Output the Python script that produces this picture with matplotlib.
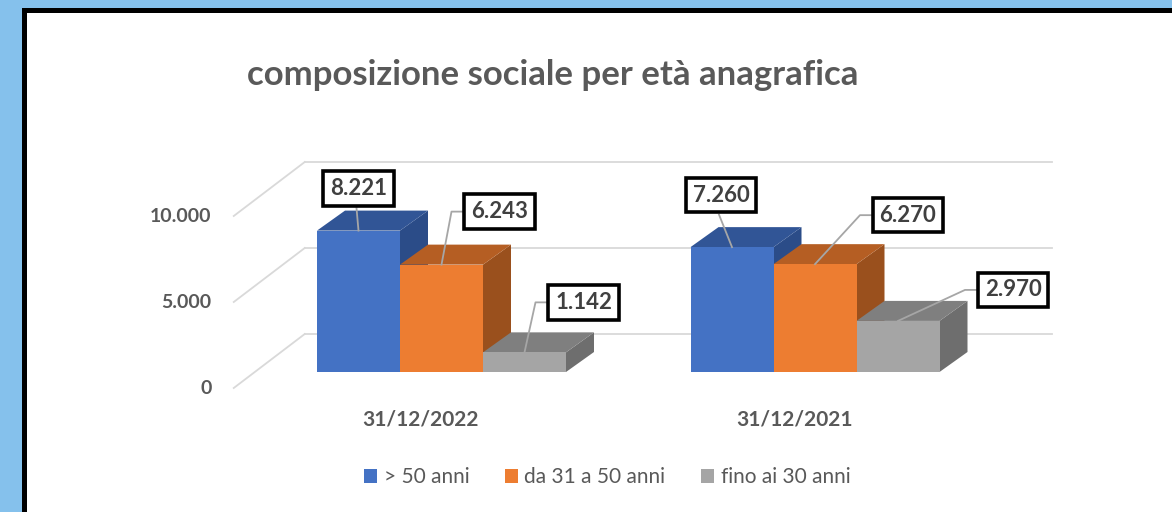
import matplotlib.pyplot as plt
from matplotlib.patches import Polygon, Rectangle, Patch

# dati
categories = ['31/12/2022', '31/12/2021']
series = ['> 50 anni', 'da 31 a 50 anni', 'fino ai 30 anni']
over_50 = [8221, 7260]
from_31_to_50 = [6243, 6270]
up_to_30 = [1142, 2970]
yticks = [0, 5000, 10000]
ytick_labels = ['0', '5.000', '10.000']

values = [over_50, from_31_to_50, up_to_30]

# colori: fronte, sopra, lato
front_cols = ['#4472C4', '#ED7D31', '#A5A5A5']
top_cols = ['#315596', '#B55E23', '#7F7F7F']
side_cols = ['#2B4C88', '#9A501D', '#6E6E6E']
text_col = '#595959'
label_col = '#404040'
grid_col = '#D9D9D9'

# posizione delle etichette (pixel rispetto al centro del bordo alto della barra)
# (dx, dy, stile leader) stile 'v' = verticale, 'k' = con gomito
label_pos = [
    [(0, 42, 'v'), (-11, 52, 'v')],
    [(58, 53, 'k'), (93, 49, 'k')],
    [(59, 50, 'k'), (115, 31, 'k')],
]

W, H = 1172, 512
fig = plt.figure(figsize=(W / 100, H / 100), dpi=100)
fig.patch.set_facecolor('#85C1EC')
fig.add_artist(Rectangle((22 / W, -0.1), 1.2, (H - 8) / H + 0.1, transform=fig.transFigure,
                         facecolor='black', edgecolor='none', zorder=-2))
fig.add_artist(Rectangle((27 / W, -0.1), 1.2, (H - 13) / H + 0.1, transform=fig.transFigure,
                         facecolor='white', edgecolor='none', zorder=-1))

ax = fig.add_axes([0, 0, 1, 1])
ax.set_axis_off()
ax.patch.set_visible(False)

# scala: 1 unita' x = 83 px (larghezza barra), 5000 = 86 px
bw_px = 83.0
ypx = 86.0 / 5000
x_origin = 358.5
y_origin = 140.0
ax.set_xlim(-x_origin / bw_px, (W - x_origin) / bw_px)
ax.set_ylim(-y_origin / ypx, (H - y_origin) / ypx)


def px_x(p):
    return p / bw_px


def px_y(p):
    return p / ypx


n = len(series)
gap = 1.5
group_w = n + gap
centers = [i * group_w + (n - 1) / 2 for i in range(len(categories))]
xmin = centers[0] - group_w / 2
xmax = centers[-1] + group_w / 2

# profondita'
bdx, bdy = px_x(28), px_y(20)     # barre
fdx, fdy = px_x(-21), px_y(-16)   # bordo anteriore del pavimento
kdx, kdy = px_x(50), px_y(38)     # parete di fondo

# griglia
for v, lab in zip(yticks, ytick_labels):
    ax.plot([xmin + fdx, xmin + kdx], [v + fdy, v + kdy], color=grid_col, lw=1.3, zorder=0)
    ax.plot([xmin + kdx, xmax + kdx], [v + kdy, v + kdy], color=grid_col, lw=1.3, zorder=0)
    ax.text(xmin + fdx - px_x(22), v + fdy, lab, ha='right', va='center', fontsize=14,
            fontweight='bold', color=text_col, family='Lato')

for ci, c in enumerate(categories):
    ax.text(centers[ci] + fdx, fdy - px_y(32), c, ha='center', va='center', fontsize=15,
            fontweight='bold', color=text_col, family='Lato')

# barre
for ci in range(len(categories)):
    for si in range(n):
        v = values[si][ci]
        x = centers[ci] - (n - 1) / 2 + si
        l, r = x - 0.5, x + 0.5
        ax.add_patch(Polygon([(r, 0), (r + bdx, bdy), (r + bdx, v + bdy), (r, v)], closed=True,
                             facecolor=side_cols[si], edgecolor='none', zorder=2 + ci * 10 + si * 3))
        ax.add_patch(Polygon([(l, v), (r, v), (r + bdx, v + bdy), (l + bdx, v + bdy)], closed=True,
                             facecolor=top_cols[si], edgecolor='none', zorder=2 + ci * 10 + si * 3))
        ax.bar(x, v, width=1.0, color=front_cols[si], edgecolor='none', zorder=3 + ci * 10 + si * 3)

# etichette dati
box_hw, box_hh = 37, 19.5
for ci in range(len(categories)):
    for si in range(n):
        v = values[si][ci]
        x = centers[ci] - (n - 1) / 2 + si
        dx, dy, style = label_pos[si][ci]
        if style == 'v':
            lx = [x, x + px_x(dx - 2)]
            ly = [v, v + px_y(dy - box_hh)]
        else:
            lx = [x, x + px_x(dx - box_hw - 11), x + px_x(dx - box_hw)]
            ly = [v, v + px_y(dy), v + px_y(dy)]
        ax.plot(lx, ly, color='#A6A6A6', lw=1.3, zorder=40)
        txt = f'{v:,}'.replace(',', '.')
        ax.text(x + px_x(dx), v + px_y(dy), txt, ha='center', va='center', fontsize=16,
                fontweight='bold', color=label_col, family='Lato', zorder=41,
                bbox=dict(boxstyle='square,pad=0.3', facecolor='white', edgecolor='black', lw=2.6))

fig.text(553 / W, (H - 75) / H, 'composizione sociale per età anagrafica', ha='center', va='center',
         fontsize=25, fontweight='bold', color=text_col, family='Lato')

handles = [Patch(facecolor=c, edgecolor='none') for c in front_cols]
fig.legend(handles, series, loc='center', bbox_to_anchor=(607 / W, 35 / H), ncol=3, frameon=False,
           handlelength=0.65, handleheight=0.65, handletextpad=0.3, columnspacing=1.7,
           prop={'family': 'Lato', 'size': 15}, labelcolor=text_col)

fig.savefig('out.png', dpi=100, facecolor=fig.get_facecolor())
